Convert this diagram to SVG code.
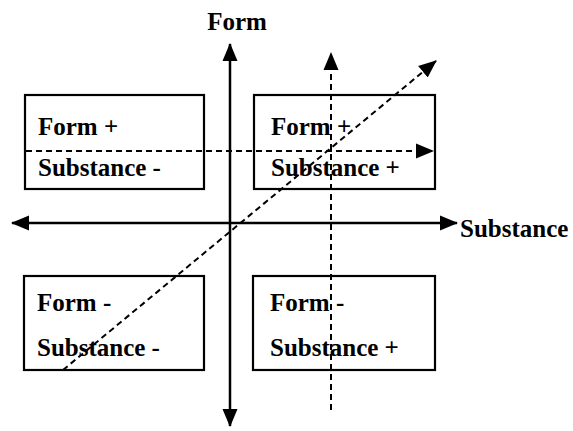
<svg xmlns="http://www.w3.org/2000/svg" width="573" height="431" viewBox="0 0 573 431">
<style>
.box{fill:#fff;stroke:#000;stroke-width:2.2}
.t{font-family:"Liberation Serif","Times New Roman",serif;font-weight:bold;font-size:25px;fill:#000}
.axis{stroke:#000;stroke-width:2.5;fill:none}
.dash{stroke:#000;stroke-width:2;fill:none;stroke-dasharray:6 4}
</style>
<defs>
<marker id="ah" markerUnits="userSpaceOnUse" markerWidth="19" markerHeight="17" refX="17" refY="8.5" orient="auto-start-reverse" viewBox="0 0 19 17">
<path d="M0,1 L18,8.5 L0,16 z" fill="#000"/>
</marker>
</defs>
<g id="box-tl">
<rect class="box" x="25" y="95" width="179" height="94"/>
<text class="t" x="38" y="135">Form +</text>
<text class="t" x="38" y="176">Substance -</text>
</g>
<g id="box-tr">
<rect class="box" x="254" y="95" width="181" height="94"/>
<text class="t" x="271" y="135">Form +</text>
<text class="t" x="271" y="176">Substance +</text>
</g>
<g id="box-bl">
<rect class="box" x="24" y="276" width="180" height="94"/>
<text class="t" x="37" y="311">Form -</text>
<text class="t" x="37" y="356">Substance -</text>
</g>
<g id="box-br">
<rect class="box" x="253" y="276" width="182" height="94"/>
<text class="t" x="270" y="311">Form -</text>
<text class="t" x="270" y="356">Substance +</text>
</g>
<g id="labels">
<text class="t" x="237" y="30" text-anchor="middle">Form</text>
<text class="t" x="460" y="237">Substance</text>
</g>
<g id="connectors">
<line class="axis" x1="230" y1="44" x2="230" y2="426" marker-start="url(#ah)" marker-end="url(#ah)"/>
<line class="axis" x1="12" y1="223" x2="457" y2="223" marker-start="url(#ah)" marker-end="url(#ah)"/>
<line class="dash" x1="26" y1="151" x2="433" y2="151" marker-end="url(#ah)"/>
<line class="dash" x1="331" y1="410" x2="331" y2="53" marker-end="url(#ah)"/>
<line class="dash" x1="63" y1="370" x2="436" y2="61" marker-end="url(#ah)"/>
</g>
</svg>
